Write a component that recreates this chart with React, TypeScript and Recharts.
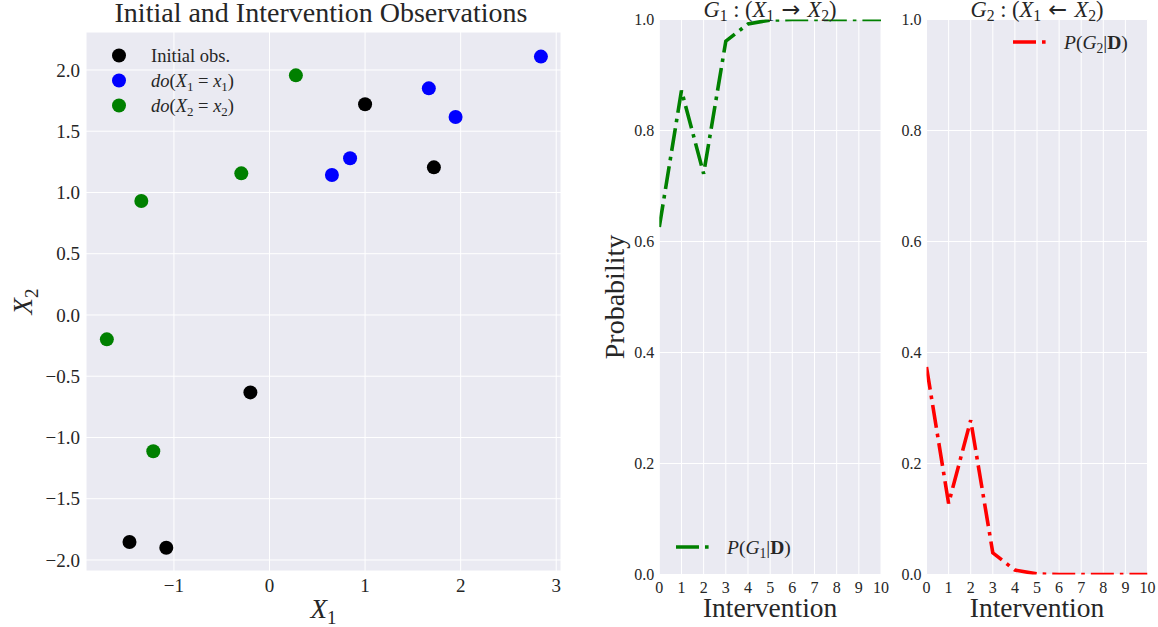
import React from 'react';
import { ScatterChart, Scatter, LineChart, Line, XAxis, YAxis, CartesianGrid, Legend, Label } from 'recharts';

// scatter observations
const initialX = [1.0, 1.72, -0.2, -1.465, -1.08];
const initialY = [1.72, 1.205, -0.632, -1.853, -1.9];
const doX1X = [2.84, 1.667, 1.947, 0.843, 0.653];
const doX1Y = [2.109, 1.85, 1.616, 1.279, 1.143];
const doX2X = [0.276, -0.295, -1.341, -1.702, -1.216];
const doX2Y = [1.956, 1.156, 0.93, -0.199, -1.112];

// posterior probabilities per intervention
const interventions = [0, 1, 2, 3, 4, 5, 6, 7, 8, 9, 10];
const probG1 = [0.626, 0.872, 0.722, 0.961, 0.992, 0.999, 1, 1, 1, 1, 1];
const probG2 = [0.374, 0.128, 0.278, 0.039, 0.008, 0.001, 0, 0, 0, 0, 0];

const scatterXTicks = [-1, 0, 1, 2, 3];
const scatterYTicks = [-2, -1.5, -1, -0.5, 0, 0.5, 1, 1.5, 2];
const probTicks = [0, 0.2, 0.4, 0.6, 0.8, 1];

const FONT = "'Liberation Serif', 'DejaVu Serif', serif";
const ARROW_FONT = "'DejaVu Sans', sans-serif";
const INK = '#262626';
const PANEL = '#EAEAF2';
const DASH = '23 6 3.6 6';

type Part = { t: string; it?: boolean; sub?: boolean; bf?: boolean; ff?: string };

const toPoints = (xs: number[], ys: number[]) => xs.map((x, i) => ({ x, y: ys[i] }));
const probData = interventions.map((n, i) => ({ n, g1: probG1[i], g2: probG2[i] }));

const minus = (s: string) => s.replace('-', '\u2212');
const fmt1 = (v: number) => minus(v.toFixed(1));
const fmt0 = (v: number) => minus(String(v));

function MathText({ x, y, parts, size, anchor = 'middle', rotate = false }: {
  x: number; y: number; parts: Part[]; size: number; anchor?: string; rotate?: boolean;
}) {
  let shifted = false;
  const spans = parts.map((p, i) => {
    let dy: number | undefined;
    if (p.sub && !shifted) { dy = size * 0.22; shifted = true; }
    else if (!p.sub && shifted) { dy = -size * 0.22; shifted = false; }
    return (
      <tspan key={i} dy={dy} fontStyle={p.it ? 'italic' : 'normal'} fontWeight={p.bf ? 'bold' : 'normal'}
        fontFamily={p.ff || FONT} fontSize={p.sub ? size * 0.7 : size} style={{ whiteSpace: 'pre' }}>
        {p.t}
      </tspan>
    );
  });
  return (
    <text x={x} y={y} textAnchor={anchor as any} fontFamily={FONT} fill={INK}
      transform={rotate ? `rotate(-90 ${x} ${y})` : undefined}>
      {spans}
    </text>
  );
}

const sub = (letter: string, idx: string): Part[] => [{ t: letter, it: true }, { t: idx, sub: true }];

const scatterSeries = [
  { name: 'initial', color: '#000000', data: toPoints(initialX, initialY), label: [{ t: 'Initial obs.' }] as Part[] },
  { name: 'doX1', color: '#0000FF', data: toPoints(doX1X, doX1Y), label: [{ t: 'do', it: true }, { t: '(' }, ...sub('X', '1'), { t: ' = ' }, ...sub('x', '1'), { t: ')' }] as Part[] },
  { name: 'doX2', color: '#008000', data: toPoints(doX2X, doX2Y), label: [{ t: 'do', it: true }, { t: '(' }, ...sub('X', '2'), { t: ' = ' }, ...sub('x', '2'), { t: ')' }] as Part[] },
];

function ScatterLegend() {
  return (
    <svg width={210} height={75}>
      {scatterSeries.map((s, i) => (
        <g key={s.name}>
          <circle cx={8} cy={12.5 + i * 25} r={7} fill={s.color} />
          <MathText x={40} y={18.5 + i * 25} parts={s.label} size={18.5} anchor="start" />
        </g>
      ))}
    </svg>
  );
}

function LineLegend({ color, idx }: { color: string; idx: string }) {
  return (
    <svg width={140} height={26}>
      <line x1={0} x2={33} y1={12} y2={12} stroke={color} strokeWidth={3.6} strokeDasharray={DASH} />
      <MathText x={51} y={19} size={19.5} anchor="start"
        parts={[{ t: 'P', it: true }, { t: '(' }, ...sub('G', idx), { t: '|' }, { t: 'D', bf: true }, { t: ')' }]} />
    </svg>
  );
}

const tickScatter = { fill: INK, fontSize: 19, fontFamily: FONT };
const tickProb = { fill: INK, fontSize: 16, fontFamily: FONT };

function ProbChart({ left, width, yWidth, right, dataKey, color, legendPos, showYLabel }: {
  left: number; width: number; yWidth: number; right: number; dataKey: string; color: string;
  legendPos: { left: number; top: number }; showYLabel: boolean;
}) {
  return (
    <div style={{ position: 'absolute', left, top: 0 }}>
      <LineChart width={width} height={627} data={probData} margin={{ top: 19.5, right, bottom: 0, left: 0 }}
        style={{ fontFamily: FONT }}>
        <CartesianGrid stroke="#fff" strokeWidth={1} fill={PANEL} fillOpacity={1} />
        <XAxis type="number" dataKey="n" domain={[0, 10]} ticks={interventions} interval={0} allowDataOverflow
          axisLine={false} tickLine={false} tickSize={0} tickMargin={7} height={52.5} tick={tickProb}>
          <Label content={(p: any) => (
            <MathText x={p.viewBox.x + p.viewBox.width / 2} y={p.viewBox.y + 42} size={27.5} parts={[{ t: 'Intervention' }]} />
          )} />
        </XAxis>
        <YAxis type="number" domain={[0, 1]} ticks={probTicks} interval={0} allowDataOverflow
          axisLine={false} tickLine={false} tickSize={0} tickMargin={5} width={yWidth} tick={tickProb} tickFormatter={fmt1}>
          {showYLabel && (
            <Label content={(p: any) => (
              <MathText x={p.viewBox.x + 34} y={p.viewBox.y + p.viewBox.height / 2} size={28} rotate parts={[{ t: 'Probability' }]} />
            )} />
          )}
        </YAxis>
        <Legend layout="vertical" align="center" verticalAlign="middle"
          wrapperStyle={{ left: legendPos.left, top: legendPos.top, width: 140, height: 26 }}
          content={() => <LineLegend color={color} idx={dataKey === 'g1' ? '1' : '2'} />} />
        <Line type="linear" dataKey={dataKey} stroke={color} strokeWidth={3.6} strokeDasharray={DASH}
          dot={false} activeDot={false} isAnimationActive={false} />
      </LineChart>
    </div>
  );
}

export default function App() {
  return (
    <div style={{ position: 'absolute', left: 0, top: 0, width: 1158, height: 627, background: '#fff', fontFamily: FONT }}>
      <style>{`.recharts-text, .recharts-cartesian-axis-tick-value { font-family: ${FONT}; }`}</style>
      <div style={{ position: 'absolute', left: 0, top: 0 }}>
        <ScatterChart width={580} height={627} margin={{ top: 32, right: 19, bottom: 0, left: 0 }}
          style={{ fontFamily: FONT }}>
          <CartesianGrid stroke="#fff" strokeWidth={1} fill={PANEL} fillOpacity={1} />
          <XAxis type="number" dataKey="x" domain={[-1.92, 3.05]} ticks={scatterXTicks} interval={0} allowDataOverflow
            axisLine={false} tickLine={false} tickSize={0} tickMargin={8} height={56} tick={tickScatter} tickFormatter={fmt0}>
            <Label content={(p: any) => (
              <MathText x={p.viewBox.x + p.viewBox.width / 2} y={p.viewBox.y + 47} size={27} parts={sub('X', '1')} />
            )} />
          </XAxis>
          <YAxis type="number" dataKey="y" domain={[-2.09, 2.31]} ticks={scatterYTicks} interval={0} allowDataOverflow
            axisLine={false} tickLine={false} tickSize={0} tickMargin={6} width={86} tick={tickScatter} tickFormatter={fmt1}>
            <Label content={(p: any) => (
              <MathText x={p.viewBox.x + 32} y={p.viewBox.y + p.viewBox.height / 2} size={27} rotate parts={sub('X', '2')} />
            )} />
          </YAxis>
          <Legend layout="vertical" align="center" verticalAlign="middle"
            wrapperStyle={{ left: 111.3, top: 43.2, width: 210, height: 75 }}
            content={() => <ScatterLegend />} />
          {scatterSeries.map((s) => (
            <Scatter key={s.name} name={s.name} data={s.data} fill={s.color} isAnimationActive={false}
              shape={(p: any) => <circle cx={p.cx} cy={p.cy} r={7} fill={s.color} />} />
          ))}
        </ScatterChart>
      </div>

      <ProbChart left={590} width={300} yWidth={69.3} right={9} dataKey="g1" color="#008000"
        legendPos={{ left: 86, top: 535.3 }} showYLabel />
      <ProbChart left={890} width={268} yWidth={36.5} right={10.5} dataKey="g2" color="#FF0000"
        legendPos={{ left: 123, top: 30.3 }} showYLabel={false} />

      <svg width={1158} height={627} style={{ position: 'absolute', left: 0, top: 0, pointerEvents: 'none' }}>
        <MathText x={321} y={22} size={28} parts={[{ t: 'Initial and Intervention Observations' }]} />
        <MathText x={770} y={16.5} size={22.5}
          parts={[...sub('G', '1'), { t: ' : (' }, ...sub('X', '1'), { t: ' \u2192 ', ff: ARROW_FONT }, ...sub('X', '2'), { t: ')' }]} />
        <MathText x={1037} y={16.5} size={22.5}
          parts={[...sub('G', '2'), { t: ' : (' }, ...sub('X', '1'), { t: ' \u2190 ', ff: ARROW_FONT }, ...sub('X', '2'), { t: ')' }]} />
      </svg>
    </div>
  );
}
